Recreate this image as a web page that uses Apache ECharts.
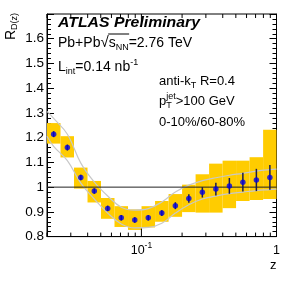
<!DOCTYPE html>
<html>
<head>
<meta charset="utf-8">
<script src="https://cdn.jsdelivr.net/npm/echarts@6/dist/echarts.min.js"></script>
<style>
html,body{margin:0;padding:0;background:#fff;}
#c{width:291px;height:282px;}
</style>
</head>
<body>
<div id="c"></div>
<script>
// ---- data ----
const binEdges = [0.02, 0.02518, 0.0317, 0.0399, 0.0502, 0.0632, 0.0796, 0.1002, 0.1262, 0.1589, 0.2, 0.2518, 0.317, 0.399, 0.502, 0.632, 0.796, 1.0];
const zCenters = [0.0224, 0.0283, 0.0356, 0.0448, 0.0563, 0.0709, 0.0893, 0.1124, 0.1416, 0.1783, 0.2244, 0.2825, 0.3557, 0.4478, 0.5637, 0.7096, 0.8933];
const rdz      = [1.214, 1.160, 1.039, 0.984, 0.914, 0.876, 0.867, 0.876, 0.895, 0.925, 0.954, 0.979, 0.992, 1.005, 1.020, 1.029, 1.039];
const statErr  = [0.012, 0.012, 0.011, 0.011, 0.011, 0.011, 0.011, 0.011, 0.012, 0.014, 0.017, 0.021, 0.026, 0.032, 0.038, 0.045, 0.050];
const sysLow   = [1.176, 1.120, 0.994, 0.938, 0.872, 0.839, 0.827, 0.837, 0.860, 0.880, 0.899, 0.897, 0.897, 0.915, 0.944, 0.948, 0.952];
const sysHigh  = [1.259, 1.206, 1.079, 1.025, 0.956, 0.923, 0.910, 0.923, 0.944, 0.972, 1.010, 1.052, 1.095, 1.107, 1.107, 1.121, 1.232];
const curveZ     = [0.02, 0.0224, 0.0283, 0.0356, 0.0448, 0.0563, 0.0709, 0.0893, 0.1124, 0.1416, 0.1783, 0.2244, 0.2825, 0.3557, 0.4478, 0.5637, 0.7096, 0.8933, 1.0];
const curveUpper = [1.306, 1.278, 1.214, 1.097, 1.020, 0.964, 0.919, 0.907, 0.913, 0.940, 0.980, 1.008, 1.026, 1.038, 1.048, 1.056, 1.065, 1.071, 1.073];
const curveLower = [1.206, 1.165, 1.107, 1.016, 0.952, 0.895, 0.851, 0.835, 0.837, 0.854, 0.895, 0.929, 0.952, 0.964, 0.974, 0.980, 0.986, 0.990, 0.992];
const xMajorTicks = [0.1, 1];
const xMinorTicks = [0.02, 0.03, 0.04, 0.05, 0.06, 0.07, 0.08, 0.09, 0.2, 0.3, 0.4, 0.5, 0.6, 0.7, 0.8, 0.9];
const xTickLabels = [[0.1, '10', '-1'], [1, '1', '']];
const xRange = [0.02, 1];
const yRange = [0.8, 1.7];
const refLine = 1;

// ---- text layout helpers ----
const FONT = '"Liberation Sans", Arial, Helvetica, sans-serif';
const mctx = document.createElement('canvas').getContext('2d');
function fontStr(r) { return (r.style || 'normal') + ' ' + (r.weight || 'normal') + ' ' + r.fs + 'px ' + FONT; }
function measure(r) { mctx.font = fontStr(r); return mctx.measureText(r.t).width; }
function textEl(x, base, r) {
  return {type: 'text', x: x, y: base + (r.dy || 0) - 0.31 * r.fs,
    style: {text: r.t, fontSize: r.fs, fontFamily: FONT, fontWeight: r.weight || 'normal', fontStyle: r.style || 'normal',
            fill: '#000', align: 'left', verticalAlign: 'middle'}};
}
function runs(x0, base, items, extras) {
  let x = x0; const out = []; const marks = {};
  for (const r of items) {
    if (r.mark) marks[r.mark] = x;
    if (r.stack) {
      let w = 0;
      for (const s of r.stack) { out.push(textEl(x, base, s)); w = Math.max(w, measure(s)); }
      x += w;
    } else {
      out.push(textEl(x, base, r)); x += measure(r);
    }
    if (r.endMark) marks[r.endMark] = x;
  }
  if (extras) extras(out, marks, x);
  return out;
}
function textWidth(items) {
  let w = 0;
  for (const r of items) w += r.stack ? Math.max(...r.stack.map(measure)) : measure(r);
  return w;
}

// ---- build ----
const chart = echarts.init(document.getElementById('c'), null, {renderer: 'canvas'});

const boxData = zCenters.map((z, i) => [binEdges[i], binEdges[i + 1], sysLow[i], sysHigh[i]]);
const errData = zCenters.map((z, i) => [z, rdz[i] - statErr[i], rdz[i] + statErr[i]]);
const ptData = zCenters.map((z, i) => [z, rdz[i]]);
const upData = curveZ.map((z, i) => [z, curveUpper[i]]);
const loData = curveZ.map((z, i) => [z, curveLower[i]]);
const tickData = xMajorTicks.map(v => [v, 1]).concat(xMinorTicks.map(v => [v, 0]));

const yAxisCommon = {
  type: 'value', min: yRange[0], max: yRange[1], interval: 0.1,
  axisLine: {show: true, lineStyle: {color: '#000', width: 1}},
  axisTick: {show: true, inside: true, length: 7, lineStyle: {color: '#000', width: 1}},
  minorTick: {show: true, splitNumber: 5, length: 4, lineStyle: {color: '#000', width: 1}},
  splitLine: {show: false}
};

// free texts
const LFS = 14, RFS = 13, SFS = 9;
const graphics = [];
{
  // ATLAS label: stretched horizontally to the reference's span (x 58..200)
  const it = [{t: 'ATLAS Preliminary', fs: 14, weight: 'bold', style: 'italic'}];
  const w = textWidth(it);
  graphics.push({type: 'group', x: 58, y: 27.5, scaleX: 142 / w, children: runs(0, 0, it)});
}
graphics.push(...runs(58, 47.5, [
  {t: 'Pb+Pb', fs: LFS}, {t: '\u221A', fs: 15}, {t: 's', fs: LFS, mark: 'ov0'}, {t: 'NN', fs: SFS, dy: 3, endMark: 'ov1'},
  {t: '=2.76 TeV', fs: LFS}
], (out, m) => {
  out.push({type: 'line', shape: {x1: m.ov0 - 0.5, y1: 47.5 - 13.5, x2: m.ov1 + 0.5, y2: 47.5 - 13.5}, style: {stroke: '#000', lineWidth: 1}});
}));
graphics.push(...runs(58, 71.5, [
  {t: 'L', fs: LFS}, {t: 'int', fs: SFS, dy: 3}, {t: '=0.14 nb', fs: LFS}, {t: '-1', fs: SFS, dy: -6}
]));
graphics.push(...runs(159, 85, [
  {t: 'anti-k', fs: RFS}, {t: 'T', fs: SFS, dy: 3}, {t: ' R=0.4', fs: RFS}
]));
graphics.push(...runs(159, 105.5, [
  {t: 'p', fs: RFS}, {stack: [{t: 'T', fs: SFS, dy: 3}, {t: 'jet', fs: SFS, dy: -6}]}, {t: '>100 GeV', fs: RFS}
]));
graphics.push(...runs(159, 126.5, [{t: '0-10%/60-80%', fs: RFS}]));
{
  const it = [{t: 'z', fs: 13}];
  graphics.push(...runs(276.5 - textWidth(it), 269.5, it));
}
{
  const it = [{t: 'R', fs: 14}, {t: 'D(z)', fs: 9, dy: 2}];
  graphics.push({type: 'group', x: 15.5, y: 13 + textWidth(it), rotation: Math.PI / 2, children: runs(0, 0, it)});
}

chart.setOption({
  animation: false,
  backgroundColor: '#fff',
  grid: {left: 47, top: 14, right: 14.5, bottom: 45.4, show: true, borderColor: '#000', borderWidth: 1, backgroundColor: 'transparent'},
  xAxis: [{
    type: 'log', logBase: 10, min: xRange[0], max: xRange[1],
    axisLine: {show: true, lineStyle: {color: '#000'}},
    axisTick: {show: false}, axisLabel: {show: false}, splitLine: {show: false}
  }],
  yAxis: [
    Object.assign({}, yAxisCommon, {
      position: 'left',
      axisLabel: {
        show: true, margin: 3, color: '#000', fontSize: 13.5, fontFamily: FONT,
        formatter: v => (Math.abs(v - 1.7) < 1e-6 ? '' : (Math.abs(v - 1) < 1e-6 ? '1' : v.toFixed(1)))
      }
    }),
    Object.assign({}, yAxisCommon, {position: 'right', axisLabel: {show: false}})
  ],
  series: [
    {
      type: 'custom', name: 'sys', data: boxData, z: 1,
      encode: {x: [0, 1], y: [2, 3]},
      renderItem: (params, api) => {
        const p0 = api.coord([api.value(0), api.value(3)]);
        const p1 = api.coord([api.value(1), api.value(2)]);
        return {type: 'rect', shape: {x: p0[0], y: p0[1], width: p1[0] - p0[0], height: p1[1] - p0[1]},
                style: {fill: '#ffcc00'}};
      }
    },
    {type: 'line', data: upData, smooth: 0.4, symbol: 'none', z: 2, lineStyle: {color: '#c8c8c8', width: 1.2}},
    {type: 'line', data: loData, smooth: 0.4, symbol: 'none', z: 2, lineStyle: {color: '#c8c8c8', width: 1.2}},
    {type: 'line', data: [[xRange[0], refLine], [xRange[1], refLine]], symbol: 'none', z: 3, lineStyle: {color: '#222', width: 1}},
    {
      type: 'custom', name: 'stat', data: errData, z: 4,
      encode: {x: 0, y: [1, 2]},
      renderItem: (params, api) => {
        const a = api.coord([api.value(0), api.value(1)]);
        const b = api.coord([api.value(0), api.value(2)]);
        return {type: 'line', shape: {x1: a[0], y1: a[1], x2: b[0], y2: b[1]}, style: {stroke: '#1a1a4d', lineWidth: 1.5}};
      }
    },
    {type: 'scatter', data: ptData, symbol: 'circle', symbolSize: 5.5, z: 5, itemStyle: {color: '#0000e6'}},
    {
      type: 'custom', name: 'xticks', data: tickData, z: 6, silent: true,
      encode: {x: 0},
      renderItem: (params, api) => {
        const v = api.value(0);
        const len = api.value(1) ? 8 : 4;
        const b = api.coord([v, yRange[0]]);
        const t = api.coord([v, yRange[1]]);
        return {type: 'group', children: [
          {type: 'line', shape: {x1: b[0], y1: b[1], x2: b[0], y2: b[1] - len}, style: {stroke: '#000', lineWidth: 1}},
          {type: 'line', shape: {x1: t[0], y1: t[1], x2: t[0], y2: t[1] + len}, style: {stroke: '#000', lineWidth: 1}}
        ]};
      }
    },
    {
      type: 'custom', name: 'xlabels', data: xTickLabels.map(d => [d[0], 0]), z: 6, silent: true,
      encode: {x: 0},
      renderItem: (params, api) => {
        const d = xTickLabels[params.dataIndex];
        const p = api.coord([d[0], yRange[0]]);
        const items = [{t: d[1], fs: 12.5}];
        if (d[2]) items.push({t: d[2], fs: 8.5, dy: -6});
        const w = textWidth(items);
        return {type: 'group', children: runs(p[0] - w / 2, 254.3, items)};
      }
    }
  ],
  graphic: graphics
});
</script>
</body>
</html>
